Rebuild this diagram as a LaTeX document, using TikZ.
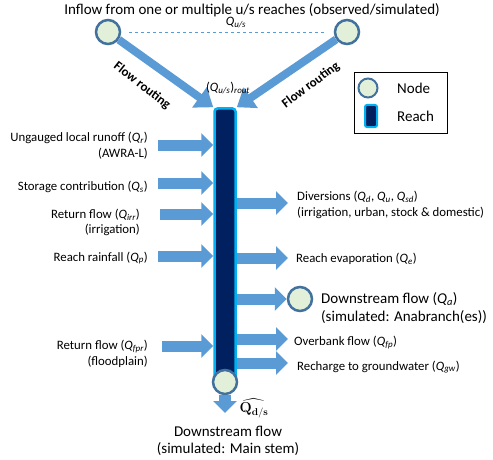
\documentclass[tikz,border=0pt]{standalone}
\usepackage[no-math]{fontspec}
\setmainfont{Carlito}
\usepackage{amsmath}
\usepackage{xcolor}
\usetikzlibrary{arrows.meta}

\definecolor{nodefill}{HTML}{E2F0D9}
\definecolor{nodeedge}{HTML}{41719C}
\definecolor{flowblue}{HTML}{5B9BD5}
\definecolor{reachedge}{HTML}{00B0F0}
\definecolor{reachfill}{HTML}{002060}

\newcommand{\Qsub}[1]{\textit{Q}\textsubscript{\textit{#1}}}

\begin{document}
\begin{tikzpicture}[x=1pt, y=-1pt,
    junction/.style={circle, draw=nodeedge, fill=nodefill, line width=2.5pt, minimum size=24pt, inner sep=0pt},
    reachbar/.style={draw=reachedge, fill=reachfill, line width=2.5pt, rounded corners=3pt, inner sep=0pt},
    inflow/.style={flowblue, line width=11pt, -{Triangle[length=12pt, width=23pt]}},
    route/.style={flowblue, line width=8pt, -{Triangle[length=17pt, width=24pt]}},
    lab/.style={font=\fontsize{12.8}{15.5}\selectfont, inner sep=1pt},
    big/.style={font=\fontsize{15}{17.5}\selectfont, inner sep=1pt}]
                \useasboundingbox (0,0) rectangle (493,460);

                \node[big] (T) at (252,10) {Inflow from one or multiple u/s reaches (observed/simulated)};
                \node[junction] (UL) at (108,32) {};
                \node[junction] (UR) at (347,32) {};
                \draw[flowblue, dashed, thin, shorten <=8pt, shorten >=8pt] (UL) -- (UR);
                \node[lab] (QU) at (236,23) {\Qsub{u/s}};

                \node[reachbar, minimum width=21pt, minimum height=274pt] (R) at (225,245.5) {};
                \node[junction] (D) at (225,382) {};

                \draw[route] (UL) -- (R.north west);
                \draw[route] (UR) -- (R.north east);
                \node[lab, font=\fontsize{13}{15}\selectfont\bfseries, rotate=-38] (FL) at (142,86) {Flow routing};
                \node[lab, font=\fontsize{13}{15}\selectfont\bfseries, rotate=37] (FR) at (311,85) {Flow routing};
                \node[lab] (QR) at (228,88) {(\Qsub{u/s})\textsubscript{\textit{rout}}};

                % inflows
                \node[lab, anchor=east, align=right] (L1) at (149,145.5) {Ungauged local runoff (\Qsub{r})\\(AWRA-L)};
                \node[lab, anchor=east] (L2) at (149,187) {Storage contribution (\Qsub{s})};
                \node[lab, anchor=east, align=right] (L3) at (141,222.5) {Return flow (\Qsub{irr})\\(irrigation)};
                \node[lab, anchor=east] (L4) at (149,258) {Reach rainfall (\Qsub{p})};
                \node[lab, anchor=east, align=right] (L5) at (149,354) {Return flow (\Qsub{fpr})\\(floodplain)};
                \coordinate (I1) at (158,145);
                \coordinate (I2) at (158,183);
                \coordinate (I3) at (160,214);
                \coordinate (I4) at (158,256);
                \coordinate (I5) at (162,346);
                \foreach \i in {I1,I2,I3,I4,I5}
                    \draw[inflow] (\i) -- (R.west |- \i);

                % outflows
                \node[junction] (A) at (300,299) {};
                \coordinate (O1) at (288,203);
                \coordinate (O2) at (288,258);
                \coordinate (O4) at (288,339);
                \coordinate (O5) at (288,363);
                \foreach \o in {O1,O2,O4,O5}
                    \draw[inflow] (R.east |- \o) -- (\o);
                \draw[inflow] (R.east |- A) -- (A);
                \node[lab, anchor=west, align=left] (R1) at (296,205) {Diversions (\Qsub{d}, \Qsub{u}, \Qsub{sd})\\(irrigation, urban, stock \& domestic)};
                \node[lab, anchor=west] (R2) at (295,259) {Reach evaporation (\Qsub{e})};
                \node[big, anchor=west, align=left] (R3) at (320,308) {Downstream flow (\Qsub{a})\\(simulated: Anabranch(es))};
                \node[lab, anchor=west] (R4) at (293,343) {Overbank flow (\Qsub{fp})};
                \node[lab, anchor=west] (R5) at (296,367) {Recharge to groundwater (\Qsub{gw})};

                % downstream
                \coordinate (DS) at (225,413);
                \draw[inflow, line width=12pt] (D) -- (DS);
                \node[lab, font=\fontsize{14}{15}\selectfont] (QD) at (254,408) {$\widehat{\mathbf{Q}_{\mathbf{d/s}}}$};
                \node[big, align=center] (B) at (228,441) {Downstream flow\\(simulated: Main stem)};

                % legend
                \draw[black, line width=1pt] (354,73) rectangle (447,133);
                \node[junction, minimum size=19pt, line width=2pt] (LN) at (368,88) {};
                \node[reachbar, minimum width=12pt, minimum height=22pt, line width=2pt, rounded corners=2pt] (LR) at (371,116) {};
                \node[big, anchor=west] (LT1) at (396,88) {Node};
                \node[big, anchor=west] (LT2) at (396,116) {Reach};
            \end{tikzpicture}
\end{document}
